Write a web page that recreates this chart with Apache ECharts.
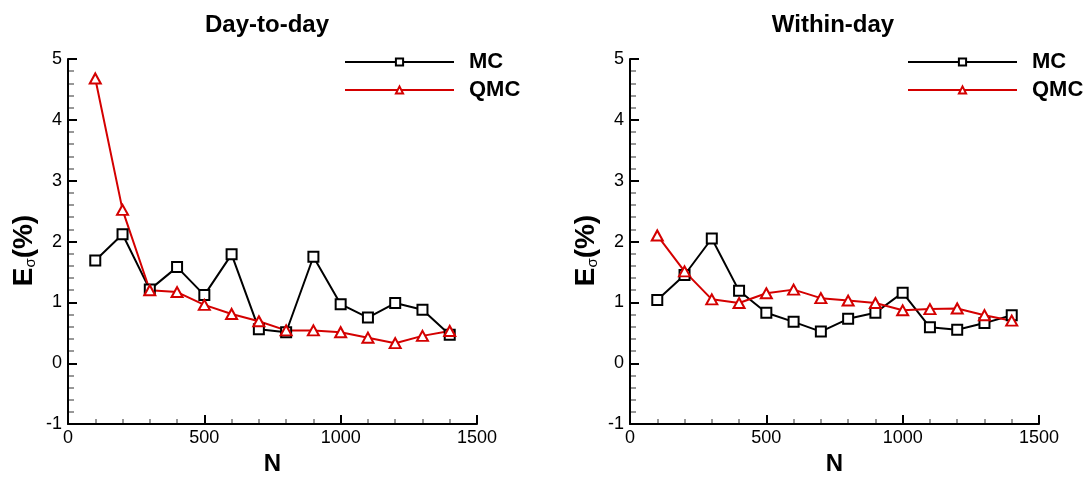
<!DOCTYPE html>
<html>
<head>
<meta charset="utf-8">
<style>
  html, body { margin: 0; padding: 0; background: #fff; }
  #chart { width: 1090px; height: 481px; }
</style>
<script src="https://cdn.jsdelivr.net/npm/echarts@6/dist/echarts.min.js"></script>
</head>
<body>
<div id="chart"></div>
<script>
// Sample sizes N
const sampleSizes = [100, 200, 300, 400, 500, 600, 700, 800, 900, 1000, 1100, 1200, 1300, 1400];

// Day-to-day relative error E_sigma (%)
const dayMC  = [1.69, 2.12, 1.21, 1.58, 1.12, 1.79, 0.56, 0.51, 1.75, 0.97, 0.75, 0.99, 0.88, 0.47];
const dayQMC = [4.68, 2.52, 1.20, 1.17, 0.96, 0.81, 0.69, 0.54, 0.54, 0.51, 0.42, 0.33, 0.45, 0.53];

// Within-day relative error E_sigma (%)
const withinMC  = [1.04, 1.45, 2.05, 1.19, 0.83, 0.68, 0.52, 0.73, 0.83, 1.16, 0.59, 0.55, 0.66, 0.79];
const withinQMC = [2.10, 1.51, 1.05, 0.99, 1.15, 1.21, 1.07, 1.03, 0.99, 0.87, 0.89, 0.90, 0.79, 0.70];

const panelTitles = ['Day-to-day', 'Within-day'];
const seriesNames = ['MC', 'QMC'];

const FONT = '"Liberation Sans", Arial, Helvetica, sans-serif';
const RED = '#d40000';
const BLACK = '#000000';

const pairs = (xs, ys) => xs.map((x, i) => [x, ys[i]]);

// Main axes: line, major ticks (inward), labels and names
function xAxisFor(gridIndex) {
  return {
    type: 'value', gridIndex, position: 'bottom', min: 0, max: 1500, interval: 500,
    name: 'N', nameLocation: 'middle', nameGap: 24,
    nameTextStyle: { fontFamily: FONT, fontSize: 24, fontWeight: 'bold', color: '#000' },
    axisLine: { show: true, onZero: false, lineStyle: { color: '#000', width: 2 } },
    axisTick: { show: true, inside: true, length: 9, lineStyle: { color: '#000', width: 2 } },
    axisLabel: { fontFamily: FONT, fontSize: 18, color: '#000', margin: 5, formatter: v => String(v) },
    splitLine: { show: false },
    z: 3
  };
}

function yAxisFor(gridIndex) {
  return {
    type: 'value', gridIndex, position: 'left', min: -1, max: 5, interval: 1,
    name: '{b|E}{s|σ}{b|(%)}', nameLocation: 'middle', nameGap: 30,
    nameTextStyle: {
      fontFamily: FONT, color: '#000', padding: [0, 18, 0, 0],
      rich: {
        b: { fontFamily: FONT, fontSize: 28, fontWeight: 'bold', color: '#000', lineHeight: 32, verticalAlign: 'bottom' },
        s: { fontFamily: FONT, fontSize: 15, color: '#000', lineHeight: 32, padding: [10, 0, 0, 0], verticalAlign: 'bottom' }
      }
    },
    axisLine: { show: true, onZero: false, lineStyle: { color: '#000', width: 2 } },
    axisTick: { show: true, inside: true, length: 9, lineStyle: { color: '#000', width: 2 } },
    axisLabel: { fontFamily: FONT, fontSize: 18, color: '#000', margin: 6, formatter: v => String(v) },
    splitLine: { show: false },
    z: 3
  };
}

// Overlay axes carrying only the short grey inward minor ticks
function xMinorAxis(gridIndex) {
  return {
    type: 'value', gridIndex, position: 'bottom', offset: 0, min: 0, max: 1500, interval: 100,
    axisLine: { show: false, onZero: false },
    axisTick: { show: true, inside: true, length: 5, lineStyle: { color: '#777', width: 1.5 } },
    axisLabel: { show: false }, splitLine: { show: false }, z: 2
  };
}

function yMinorAxis(gridIndex) {
  return {
    type: 'value', gridIndex, position: 'left', offset: 0, min: -1, max: 5, interval: 0.2,
    axisLine: { show: false, onZero: false },
    axisTick: { show: true, inside: true, length: 6, lineStyle: { color: '#777', width: 1.5 } },
    axisLabel: { show: false }, splitLine: { show: false }, z: 2
  };
}

function lineSeries(name, data, axisIndex, color, symbol, size) {
  return {
    name, type: 'line', xAxisIndex: axisIndex, yAxisIndex: axisIndex,
    data, symbol, symbolSize: size, showSymbol: true,
    lineStyle: { color, width: 2 },
    itemStyle: { color, borderColor: color, borderWidth: 2 },
    emphasis: { disabled: true },
    animation: false
  };
}

function legendFor(left) {
  return {
    orient: 'vertical', left, top: 46,
    itemWidth: 109, itemHeight: 9, itemGap: 6,
    selectedMode: false,
    data: seriesNames,
    textStyle: { fontFamily: FONT, fontSize: 22, fontWeight: 'bold', color: '#000', lineHeight: 22, padding: [0, 0, 0, 10] }
  };
}

const chart = echarts.init(document.getElementById('chart'), null, { renderer: 'canvas' });

chart.setOption({
  animation: false,
  backgroundColor: '#fff',
  title: [
    { text: panelTitles[0], left: 262, top: 8, textAlign: 'center',
      textStyle: { fontFamily: FONT, fontSize: 24, fontWeight: 'bold', color: '#000' } },
    { text: panelTitles[1], left: 828, top: 8, textAlign: 'center',
      textStyle: { fontFamily: FONT, fontSize: 24, fontWeight: 'bold', color: '#000' } }
  ],
  legend: [legendFor(339), legendFor(902)],
  grid: [
    { left: 68, top: 59, width: 409, height: 373 },
    { left: 630, top: 59, width: 409, height: 373 }
  ],
  xAxis: [xAxisFor(0), xAxisFor(1), xMinorAxis(0), xMinorAxis(1)],
  yAxis: [yAxisFor(0), yAxisFor(1), yMinorAxis(0), yMinorAxis(1)],
  series: [
    lineSeries(seriesNames[0], pairs(sampleSizes, dayMC), 0, BLACK, 'emptyRect', 10),
    lineSeries(seriesNames[1], pairs(sampleSizes, dayQMC), 0, RED, 'emptyTriangle', [11, 10]),
    lineSeries(seriesNames[0], pairs(sampleSizes, withinMC), 1, BLACK, 'emptyRect', 10),
    lineSeries(seriesNames[1], pairs(sampleSizes, withinQMC), 1, RED, 'emptyTriangle', [11, 10])
  ]
});
</script>
</body>
</html>
